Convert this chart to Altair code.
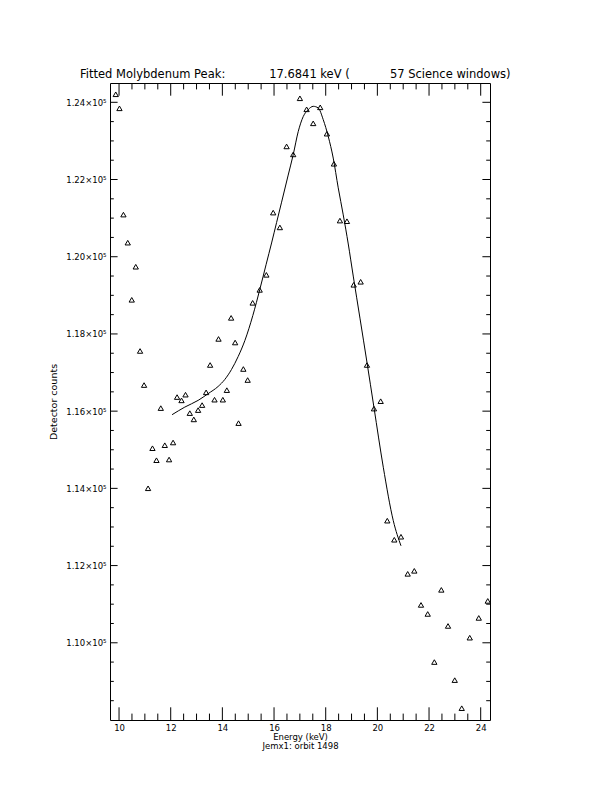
import altair as alt
import pandas as pd

# ---- data ----
energy = [9.872, 10.016, 10.170, 10.337, 10.492, 10.647, 10.814, 10.969, 11.124, 11.294,
          11.449, 11.616, 11.771, 11.937, 12.092, 12.247, 12.418, 12.573, 12.739, 12.894,
          13.061, 13.216, 13.371, 13.526, 13.696, 13.851, 14.018, 14.173, 14.339, 14.494,
          14.626, 14.812, 14.979, 15.172, 15.444, 15.703, 15.967, 16.226, 16.486, 16.742,
          17.001, 17.261, 17.516, 17.788, 18.047, 18.318, 18.551, 18.822, 19.082, 19.353,
          19.597, 19.868, 20.128, 20.384, 20.655, 20.914, 21.174, 21.430, 21.689, 21.949,
          22.205, 22.476, 22.735, 22.995, 23.266, 23.576, 23.925, 24.273]
counts = [124208, 123844, 121091, 120364, 118884, 119741, 117559, 116676, 114002, 115040,
          114729, 116079, 115118, 114747, 115188, 116365, 116279, 116427, 115949, 115786,
          116027, 116157, 116487, 117196, 116297, 117871, 116297, 116544, 118416, 117778,
          115690, 117092, 116806, 118806, 119141, 119531, 121143, 120759, 122857, 122650,
          124104, 123818, 123455, 123870, 123187, 122408, 120936, 120920, 119273, 119351,
          117196, 116066, 116258, 113163, 112669, 112747, 111786, 111864, 110981, 110747,
          109501, 111371, 110436, 109033, 108306, 110132, 110644, 111085]

fit_energy = [12.053, 12.546, 13.061, 13.448, 13.836, 14.095, 14.355, 14.611, 14.870, 15.180,
              15.451, 15.695, 15.905, 16.098, 16.292, 16.548, 16.742, 16.935, 17.129, 17.323,
              17.517, 17.710, 17.904, 18.098, 18.291, 18.485, 18.679, 18.873, 19.066, 19.326,
              19.597, 19.868, 20.229, 20.616, 20.914]
fit_counts = [115908, 116105, 116279, 116453, 116640, 116821, 117081, 117414, 117828, 118479,
              119157, 119804, 120356, 120884, 121413, 122115, 122642, 123239, 123629, 123810,
              123896, 123855, 123551, 123117, 122556, 121785, 121084, 120330, 119499, 118409,
              117266, 116097, 114547, 113163, 112513]

x_major = [10, 12, 14, 16, 18, 20, 22, 24]
x_minor = [10.5, 11, 11.5, 12.5, 13, 13.5, 14.5, 15, 15.5, 16.5, 17, 17.5,
           18.5, 19, 19.5, 20.5, 21, 21.5, 22.5, 23, 23.5]
y_major = [110000, 112000, 114000, 116000, 118000, 120000, 122000, 124000]
y_minor = [108500, 109000, 109500, 110500, 111000, 111500, 112500, 113000, 113500,
           114500, 115000, 115500, 116500, 117000, 117500, 118500, 119000, 119500,
           120500, 121000, 121500, 122500, 123000, 123500]

NB = "\u00a0"
title_text = ("Fitted Molybdenum Peak:" + NB * 12 + "17.6841 keV (" + NB * 11 +
              "57 Science windows)")

W, H = 380, 637
FONT = "DejaVu Sans"

xs = alt.Scale(domain=[9.65, 24.36], nice=False, zero=False)
ys = alt.Scale(domain=[108000, 124500], nice=False, zero=False)

df_pts = pd.DataFrame({"energy": energy, "counts": counts})
df_fit = pd.DataFrame({"E": fit_energy, "C": fit_counts})

xaxis = alt.Axis(values=x_major, format="d", labelFont=FONT, labelFontSize=8.5,
                 labelColor="black", labelPadding=3, ticks=False, domain=False,
                 grid=False, labelFlush=False, labelOverlap=False,
                 title=["Energy (keV)", "Jemx1: orbit 1498"], titleFont=FONT,
                 titleFontSize=8.5, titleFontWeight="normal", titleLineHeight=9,
                 titlePadding=1, titleColor="black")
yaxis = alt.Axis(values=y_major,
                 labelExpr="format(datum.value/100000, '.2f') + '×10⁵'",
                 labelFont=FONT, labelFontSize=8.5, labelColor="black",
                 labelPadding=4, ticks=False, domain=False, grid=False,
                 labelOverlap=False, labelFlush=False,
                 title="Detector counts", titleFont=FONT, titleFontSize=9.5,
                 titleFontWeight="normal", titlePadding=7, titleColor="black")

points = alt.Chart(df_pts).mark_point(
    shape="triangle-up", filled=False, color="black", size=28, strokeWidth=1, opacity=1
).encode(
    x=alt.X("energy:Q", scale=xs, axis=xaxis),
    y=alt.Y("counts:Q", scale=ys, axis=yaxis),
)

fit = alt.Chart(df_fit).mark_line(color="black", strokeWidth=1, interpolate="monotone").encode(
    x=alt.X("E:Q", scale=xs, axis=xaxis),
    y=alt.Y("C:Q", scale=ys, axis=yaxis),
)


def xticks(vals, top, length):
    base = alt.Chart(pd.DataFrame({"v": vals})).mark_rule(color="black", strokeWidth=1)
    if top:
        return base.encode(x=alt.X("v:Q", scale=xs, axis=xaxis),
                           y=alt.value(0), y2=alt.value(length))
    return base.encode(x=alt.X("v:Q", scale=xs, axis=xaxis),
                       y=alt.value(H), y2=alt.value(H - length))


def yticks(vals, right, length):
    base = alt.Chart(pd.DataFrame({"v": vals})).mark_rule(color="black", strokeWidth=1)
    if right:
        return base.encode(y=alt.Y("v:Q", scale=ys, axis=yaxis),
                           x=alt.value(W), x2=alt.value(W - length))
    return base.encode(y=alt.Y("v:Q", scale=ys, axis=yaxis),
                       x=alt.value(0), x2=alt.value(length))


tick_layers = [
    xticks(x_major, False, 12.7), xticks(x_minor, False, 6.4),
    xticks(x_major, True, 12.7), xticks(x_minor, True, 6.4),
    yticks(y_major, False, 7.6), yticks(y_minor, False, 3.8),
    yticks(y_major, True, 7.6), yticks(y_minor, True, 3.8),
]

chart = alt.layer(points, fit, *tick_layers).properties(
    width=W, height=H,
    title=alt.TitleParams(text=title_text, font=FONT, fontSize=11.5, fontWeight="normal",
                          anchor="start", frame="group", dx=-30, offset=2, color="black"),
    autosize=alt.AutoSizeParams(type="none"),
    padding={"left": 102, "top": 75, "right": 114, "bottom": 64},
    background="white",
).configure_view(stroke="black", strokeWidth=1)

chart.save("out.html", embed_options={"renderer": "svg", "actions": False})
